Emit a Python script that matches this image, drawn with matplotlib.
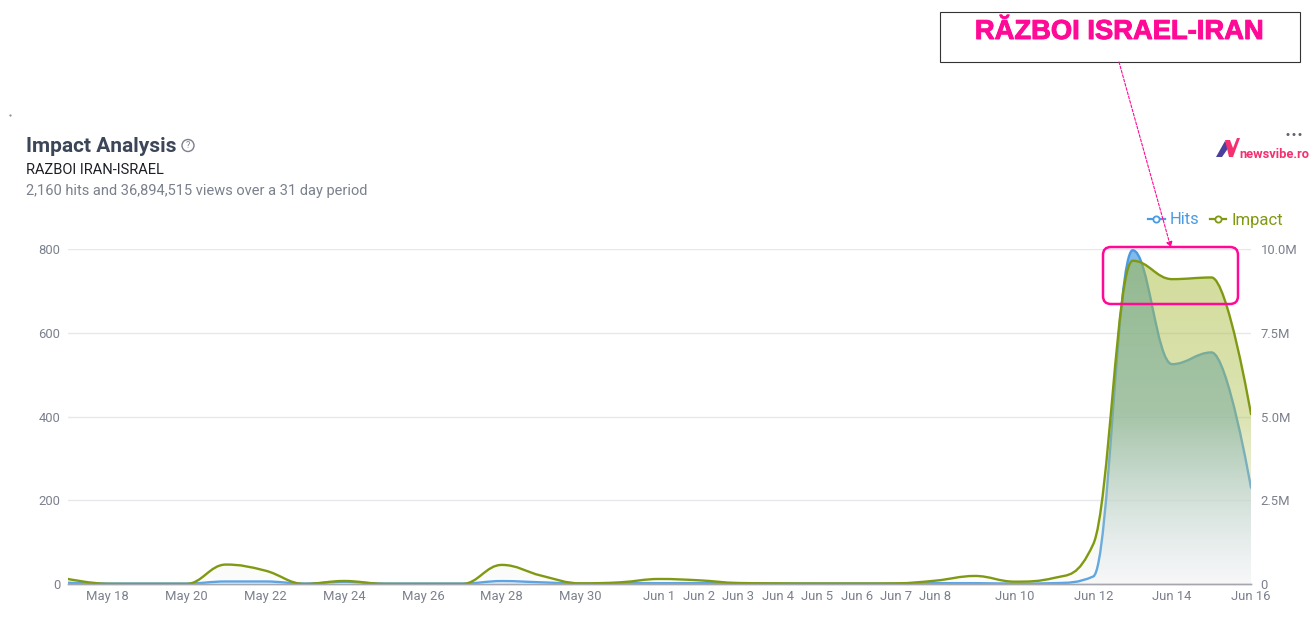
from __future__ import annotations

import matplotlib
matplotlib.use('Agg')
import matplotlib.pyplot as plt
import matplotlib.patheffects as pe
import numpy as np
from matplotlib.lines import Line2D
from matplotlib.patches import Circle, FancyBboxPatch, PathPatch, Polygon, Rectangle
from matplotlib.path import Path as MplPath

plt.rcParams['font.family'] = ['Roboto', 'DejaVu Sans']

W, H = 1311, 618

# one value per day, May 17 to Jun 16
hits = [3, 1, 1, 1, 6, 6, 1, 5, 1, 1, 1, 7, 4, 1, 2, 2,
        2, 2, 1, 1, 1, 1, 2, 2, 1, 2, 18, 797, 525, 553, 230]
impact = [150000, 5000, 2000, 2000, 580000, 400000, 2000, 90000, 5000, 2000, 2000,
          570000, 250000, 20000, 50000, 150000, 110000, 30000, 20000, 15000, 15000,
          20000, 100000, 240000, 70000, 180000, 1190000, 9650000, 9100000, 9150000,
          5070000]

tick_days = [1, 3, 5, 7, 9, 11, 13, 15, 16, 17, 18, 19, 20, 21, 22, 24, 26, 28, 30]
tick_labels = ['May 18', 'May 20', 'May 22', 'May 24', 'May 26', 'May 28', 'May 30',
               'Jun 1', 'Jun 2', 'Jun 3', 'Jun 4', 'Jun 5', 'Jun 6', 'Jun 7', 'Jun 8',
               'Jun 10', 'Jun 12', 'Jun 14', 'Jun 16']
hits_ticks = [0, 200, 400, 600, 800]
impact_ticks = [0, 2500000, 5000000, 7500000, 10000000]
impact_tick_labels = ['0', '2.5M', '5.0M', '7.5M', '10.0M']

HITS_COLOR = '#4a9be3'
IMPACT_COLOR = '#7f9a12'
LABEL_COLOR = '#7b808c'
PINK = '#ff0a96'


def spline_path(xs, ys):
    # bezier through the points, same control points as a highcharts spline
    verts = [(xs[0], ys[0])]
    codes = [MplPath.MOVETO]
    n = len(xs)
    left = [None] * n
    right = [None] * n
    right[0] = (xs[0], ys[0])
    left[-1] = (xs[-1], ys[-1])
    for i in range(1, n - 1):
        lx = (1.5 * xs[i] + xs[i - 1]) / 2.5
        ly = (1.5 * ys[i] + ys[i - 1]) / 2.5
        rx = (1.5 * xs[i] + xs[i + 1]) / 2.5
        ry = (1.5 * ys[i] + ys[i + 1]) / 2.5
        corr = (ry - ly) * (rx - xs[i]) / (rx - lx) + ys[i] - ry
        ly += corr
        ry += corr
        if ly > ys[i - 1] and ly > ys[i]:
            ly = max(ys[i - 1], ys[i])
            ry = 2 * ys[i] - ly
        elif ly < ys[i - 1] and ly < ys[i]:
            ly = min(ys[i - 1], ys[i])
            ry = 2 * ys[i] - ly
        if ry > ys[i + 1] and ry > ys[i]:
            ry = max(ys[i + 1], ys[i])
            ly = 2 * ys[i] - ry
        elif ry < ys[i + 1] and ry < ys[i]:
            ry = min(ys[i + 1], ys[i])
            ly = 2 * ys[i] - ry
        left[i] = (lx, ly)
        right[i] = (rx, ry)
    for i in range(1, n):
        verts += [right[i - 1], left[i], (xs[i], ys[i])]
        codes += [MplPath.CURVE4] * 3
    return MplPath(verts, codes)


def draw_series(ax, values, line_color, fill_rgb, grey, top, alpha_bottom, alpha_top):
    xs = np.arange(len(values), dtype=float)
    ys = np.array(values, dtype=float)
    line = spline_path(xs, ys)

    # area under the line, closed along the baseline
    verts = list(line.vertices) + [(xs[-1], 0), (xs[0], 0), (xs[0], ys[0])]
    codes = list(line.codes) + [MplPath.LINETO, MplPath.LINETO, MplPath.CLOSEPOLY]
    area = PathPatch(MplPath(verts, codes), transform=ax.transData, facecolor='none', edgecolor='none')
    ax.add_patch(area)

    # vertical gradient, colour stays strong down to mid height then fades out
    t = np.linspace(0, 1, 256)  # 0 = bottom
    f = np.interp(t, [0, 0.25, 0.5, 1], [0, 0.35, 0.8, 1])
    g = np.interp(t, [0, 0.25, 0.5, 1], [0, 0.65, 0.9, 1])
    grad = np.zeros((256, 1, 4))
    for c in range(3):
        grad[:, 0, c] = grey * (1 - f) + fill_rgb[c] * f
    grad[:, 0, 3] = alpha_bottom + (alpha_top - alpha_bottom) * g
    im = ax.imshow(grad, origin='lower', extent=(xs[0], xs[-1], 0, top), aspect='auto',
                   zorder=2, interpolation='bilinear')
    im.set_clip_path(area)

    ax.add_patch(PathPatch(line, facecolor='none', edgecolor=line_color, linewidth=1.7,
                           zorder=2.5, capstyle='round'))


def main() -> None:
    fig = plt.figure(figsize=(W / 100, H / 100), dpi=100, facecolor='white')

    # plot area in pixels: x 68-1251, y 249-584
    ax = fig.add_axes([68 / W, (H - 584) / H, (1251 - 68) / W, (584 - 249) / H])
    ax2 = ax.twinx()
    ax.set_zorder(2)
    ax2.set_zorder(3)
    ax.patch.set_visible(False)
    ax2.patch.set_visible(False)

    draw_series(ax, hits, HITS_COLOR, (0.29, 0.61, 0.89), 0.95, 800, 0.40, 0.70)
    draw_series(ax2, impact, IMPACT_COLOR, (0.647, 0.725, 0.196), 0.92, 10000000, 0.12, 0.50)

    ax.set_xlim(0, 30)
    ax.set_ylim(0, 800)
    ax2.set_ylim(0, 10000000)

    ax.set_xticks(tick_days)
    ax.set_xticklabels(tick_labels)
    ax.set_yticks(hits_ticks)
    ax2.set_yticks(impact_ticks)
    ax2.set_yticklabels(impact_tick_labels)
    ax.tick_params(axis='x', length=0, pad=4.5, labelsize=9.4, labelcolor=LABEL_COLOR)
    ax.tick_params(axis='y', length=0, pad=5.5, labelsize=9.4, labelcolor=LABEL_COLOR)
    ax2.tick_params(axis='y', length=0, pad=7, labelsize=9.4, labelcolor=LABEL_COLOR)
    ax.grid(axis='y', color='#e8e8ec', linewidth=1.0)
    ax.set_axisbelow(True)
    for a in (ax, ax2):
        for side in ('top', 'left', 'right'):
            a.spines[side].set_visible(False)
        a.spines['bottom'].set_color('#a4a7b0')
        a.spines['bottom'].set_linewidth(1.0)

    handles = [
        Line2D([], [], color=HITS_COLOR, linewidth=1.6, marker='o', markersize=4.5,
               markerfacecolor='white', markeredgewidth=1.3, label='Hits'),
        Line2D([], [], color=IMPACT_COLOR, linewidth=1.6, marker='o', markersize=4.5,
               markerfacecolor='white', markeredgewidth=1.3, label='Impact'),
    ]
    ax2.legend(handles=handles, loc='center right', ncol=2, frameon=False, fontsize=12,
               labelcolor='linecolor', handlelength=1.0, handletextpad=0.3, columnspacing=0.62,
               borderpad=0, borderaxespad=0,
               bbox_to_anchor=(1283 / W, (H - 220) / H), bbox_transform=fig.transFigure)

    # pixel overlay for header, callout and logo
    ov = fig.add_axes([0, 0, 1, 1], zorder=5)
    ov.set_xlim(0, W)
    ov.set_ylim(H, 0)
    ov.axis('off')

    ov.text(26, 146, 'Impact Analysis', fontsize=15, fontweight='bold', color='#3b4658', va='center')
    ov.add_patch(Circle((188, 145.5), 6, facecolor='none', edgecolor='#7b808c', linewidth=1))
    ov.text(188, 145.5, '?', fontsize=6.5, color='#7b808c', ha='center', va='center')
    ov.text(26, 170.5, 'RAZBOI IRAN-ISRAEL', fontsize=10.55, color='#1c1f26', va='center')
    ov.text(26, 191.5, '2,160 hits and 36,894,515 views over a 31 day period', fontsize=10.55,
            color='#7b808c', va='center')
    ov.plot([10], [115], marker='.', markersize=1, color='#777777')

    # callout
    ov.add_patch(Rectangle((939.5, 11.5), 360.5, 50, facecolor='white', edgecolor='#333333', linewidth=0.8))
    ov.text(1119.5, 32, 'RĂZBOI ISRAEL-IRAN', fontsize=19.7, fontweight='bold', color=PINK,
            family='Liberation Sans', ha='center', va='center',
            path_effects=[pe.withStroke(linewidth=0.7, foreground=PINK)])
    ov.annotate('', xy=(1171, 248), xytext=(1119, 62),
                arrowprops=dict(arrowstyle='-|>', linestyle=(0, (2.5, 1.5)), color=PINK, linewidth=0.8,
                                mutation_scale=9, shrinkA=0, shrinkB=0))
    ov.add_patch(FancyBboxPatch((1111, 255), 119, 41, boxstyle='round,pad=8,rounding_size=8',
                                facecolor='none', edgecolor=PINK, linewidth=1.8))

    # logo
    ov.add_patch(Polygon([(1216, 157), (1225, 141), (1229, 147), (1222, 157)], closed=True,
                         facecolor='#4b3f9e', edgecolor='none'))
    ov.add_patch(Polygon([(1225, 140), (1230, 140), (1233, 148), (1237, 138), (1240, 138),
                          (1233, 157), (1229, 157)], closed=True, facecolor='#f5306f', edgecolor='none'))
    ov.text(1239, 154.5, 'newsvibe.ro', fontsize=9.3, fontweight='bold', color='#f5306f', va='center')
    for x in (1288, 1294, 1300):
        ov.add_patch(Circle((x, 134.5), 1.5, facecolor='#5f6470', edgecolor='none'))

    fig.savefig('out.png', dpi=100, facecolor='white')
    plt.close(fig)


if __name__ == '__main__':
    main()
